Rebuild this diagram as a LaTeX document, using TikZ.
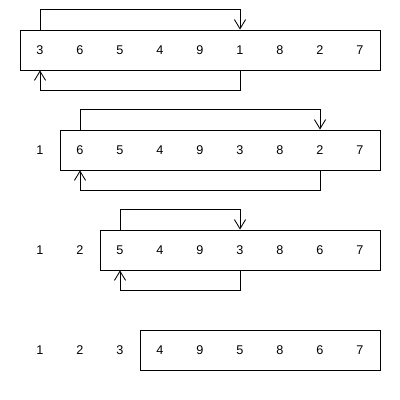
\documentclass[tikz,border=0pt]{standalone}
\usepackage{fontspec}
\setmainfont{Liberation Sans}
\usetikzlibrary{arrows.meta,calc}

\begin{document}
\begin{tikzpicture}[
  >={Straight Barb[length=2.3mm,width=2.8mm]},
  line cap=butt,
  line join=miter,
  line width=0.6pt,
  every node/.style={font=\fontsize{9}{11}\selectfont},
  cell/.style={inner sep=0pt},
  listbox/.style={draw,minimum height=1cm,inner sep=0pt},
  swap/.style={->}
]
\useasboundingbox (0,0) rectangle (10,10);

% ------------------------------------------------------------------
% Pass 1
% ------------------------------------------------------------------
\begin{scope}[yshift=0cm]
  \node[listbox,minimum width=9cm] (box1) at (5,8.75) {};
  \foreach \v [count=\i] in {3,6,5,4,9,1,8,2,7}
    \node[cell] (p1c\i) at (\i,8.75) {\v};

  \draw[swap] (p1c1 |- box1.north) -- ++(0,0.5) -| (p1c6 |- box1.north);
  \draw[swap] (p1c6 |- box1.south) -- ++(0,-0.5) -| (p1c1 |- box1.south);
\end{scope}

% ------------------------------------------------------------------
% Pass 2
% ------------------------------------------------------------------
\begin{scope}[yshift=-2.5cm]
  \node[listbox,minimum width=8cm] (box2) at (5.5,8.75) {};
  \foreach \v [count=\i] in {1,6,5,4,9,3,8,2,7}
    \node[cell] (p2c\i) at (\i,8.75) {\v};

  \draw[swap] (p2c2 |- box2.north) -- ++(0,0.5) -| (p2c8 |- box2.north);
  \draw[swap] (p2c8 |- box2.south) -- ++(0,-0.5) -| (p2c2 |- box2.south);
\end{scope}

% ------------------------------------------------------------------
% Pass 3
% ------------------------------------------------------------------
\begin{scope}[yshift=-5cm]
  \node[listbox,minimum width=7cm] (box3) at (6,8.75) {};
  \foreach \v [count=\i] in {1,2,5,4,9,3,8,6,7}
    \node[cell] (p3c\i) at (\i,8.75) {\v};

  \draw[swap] (p3c3 |- box3.north) -- ++(0,0.5) -| (p3c6 |- box3.north);
  \draw[swap] (p3c6 |- box3.south) -- ++(0,-0.5) -| (p3c3 |- box3.south);
\end{scope}

% ------------------------------------------------------------------
% Pass 4
% ------------------------------------------------------------------
\begin{scope}[yshift=-7.5cm]
  \node[listbox,minimum width=6cm] (box4) at (6.5,8.75) {};
  \foreach \v [count=\i] in {1,2,3,4,9,5,8,6,7}
    \node[cell] (p4c\i) at (\i,8.75) {\v};
\end{scope}

\end{tikzpicture}
\end{document}
